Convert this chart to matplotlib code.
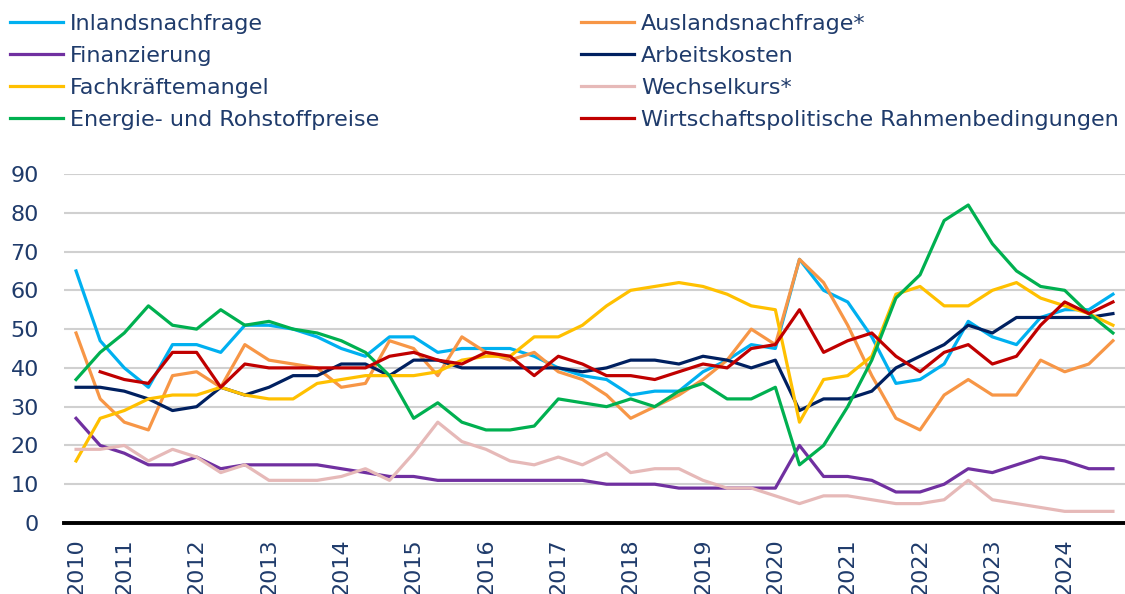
import numpy as np
import matplotlib
matplotlib.use('Agg')
import matplotlib.pyplot as plt
from matplotlib import font_manager

# Umfragewerte (Anteil der Nennungen in %), drei Umfragen pro Jahr ab 2010
inland = [65, 47, 40, 35, 46, 46, 44, 51, 51, 50, 48, 45, 43, 48, 48, 44, 45, 45, 45, 43, 40, 38,
          37, 33, 34, 34, 39, 42, 46, 45, 68, 60, 57, 48, 36, 37, 41, 52, 48, 46, 53, 55, 55, 59]
ausland = [49, 32, 26, 24, 38, 39, 35, 46, 42, 41, 40, 35, 36, 47, 45, 38, 48, 44, 42, 44, 39, 37,
           33, 27, 30, 33, 37, 42, 50, 46, 68, 62, 51, 38, 27, 24, 33, 37, 33, 33, 42, 39, 41, 47]
finanz = [27, 20, 18, 15, 15, 17, 14, 15, 15, 15, 15, 14, 13, 12, 12, 11, 11, 11, 11, 11, 11, 11,
          10, 10, 10, 9, 9, 9, 9, 9, 20, 12, 12, 11, 8, 8, 10, 14, 13, 15, 17, 16, 14, 14]
arbeit = [35, 35, 34, 32, 29, 30, 35, 33, 35, 38, 38, 41, 41, 38, 42, 42, 40, 40, 40, 40, 40, 39,
          40, 42, 42, 41, 43, 42, 40, 42, 29, 32, 32, 34, 40, 43, 46, 51, 49, 53, 53, 53, 53, 54]
fachkraefte = [16, 27, 29, 32, 33, 33, 35, 33, 32, 32, 36, 37, 38, 38, 38, 39, 42, 43, 43, 48, 48, 51,
               56, 60, 61, 62, 61, 59, 56, 55, 26, 37, 38, 43, 59, 61, 56, 56, 60, 62, 58, 56, 54, 51]
wechselkurs = [19, 19, 20, 16, 19, 17, 13, 15, 11, 11, 11, 12, 14, 11, 18, 26, 21, 19, 16, 15, 17, 15,
               18, 13, 14, 14, 11, 9, 9, 7, 5, 7, 7, 6, 5, 5, 6, 11, 6, 5, 4, 3, 3, 3]
energie = [37, 44, 49, 56, 51, 50, 55, 51, 52, 50, 49, 47, 44, 38, 27, 31, 26, 24, 24, 25, 32, 31,
           30, 32, 30, 34, 36, 32, 32, 35, 15, 20, 30, 42, 58, 64, 78, 82, 72, 65, 61, 60, 54, 49]
wirtschaft = [np.nan, 39, 37, 36, 44, 44, 35, 41, 40, 40, 40, 40, 40, 43, 44, 42, 41, 44, 43, 38, 43, 41,
              38, 38, 37, 39, 41, 40, 45, 46, 55, 44, 47, 49, 43, 39, 44, 46, 41, 43, 51, 57, 54, 57]

jahre = ['2010', '2011', '2012', '2013', '2014', '2015', '2016', '2017',
         '2018', '2019', '2020', '2021', '2022', '2023', '2024']
jahr_pos = [0] + [2 + 3 * k for k in range(len(jahre) - 1)]

# Schrift: schmale Schrift wenn vorhanden, sonst DejaVu
try:
    font_manager.findfont('Liberation Sans Narrow', fallback_to_default=False)
    fam = 'Liberation Sans Narrow'
    fs_leg, fs_tick = 20, 20
except ValueError:
    fam = 'DejaVu Sans'
    fs_leg, fs_tick = 16, 16
plt.rcParams['font.family'] = [fam, 'DejaVu Sans']
textfarbe = '#1F3B6B'

fig = plt.figure(figsize=(11.25, 5.94), dpi=100)
ax = fig.add_axes([64 / 1125, 71 / 594, 1 - 64 / 1125, 349 / 594])

x = np.arange(len(inland))
serien = [
    ('Inlandsnachfrage', inland, '#00B0F0'),
    ('Auslandsnachfrage*', ausland, '#F79646'),
    ('Finanzierung', finanz, '#7030A0'),
    ('Arbeitskosten', arbeit, '#002060'),
    ('Fachkräftemangel', fachkraefte, '#FFC000'),
    ('Wechselkurs*', wechselkurs, '#E6B9B8'),
    ('Energie- und Rohstoffpreise', energie, '#00B050'),
    ('Wirtschaftspolitische Rahmenbedingungen', wirtschaft, '#C00000'),
]
linien = {}
for name, werte, farbe in serien:
    linien[name], = ax.plot(x, werte, color=farbe, lw=2.3, label=name, zorder=3)

ax.set_xlim(-0.5, len(inland) - 0.5)
ax.set_ylim(0, 90)
ax.set_yticks(range(0, 91, 10))
ax.yaxis.grid(True, color='#D0D0D0', lw=1.5)
ax.set_axisbelow(True)
ax.axhline(0, color='black', lw=2.8, zorder=4, clip_on=False)
for s in ax.spines.values():
    s.set_visible(False)

ax.set_xticks(jahr_pos)
ax.set_xticklabels(jahre, rotation=90, va='top')
ax.tick_params(axis='x', length=0, pad=11, labelsize=fs_tick, labelcolor=textfarbe)
ax.tick_params(axis='y', length=0, pad=18, labelsize=fs_tick, labelcolor=textfarbe)

# Legende in zwei Spalten
links = ['Inlandsnachfrage', 'Finanzierung', 'Fachkräftemangel', 'Energie- und Rohstoffpreise']
rechts = ['Auslandsnachfrage*', 'Arbeitskosten', 'Wechselkurs*', 'Wirtschaftspolitische Rahmenbedingungen']
for namen, xpos in [(links, 10 / 1125), (rechts, 581 / 1125)]:
    leg = fig.legend([linien[n] for n in namen], namen, loc='upper left',
                     bbox_to_anchor=(xpos, 1 - 14 / 594), frameon=False, fontsize=fs_leg,
                     borderpad=0, borderaxespad=0, handlelength=2.4, handletextpad=0.3,
                     labelspacing=0.54)
    for t in leg.get_texts():
        t.set_color(textfarbe)

fig.savefig('out.png', dpi=100)
